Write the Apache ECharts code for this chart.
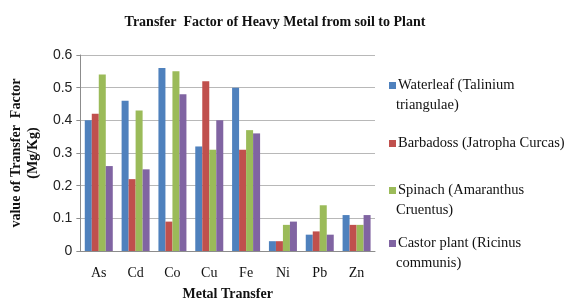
<!DOCTYPE html>
<html>
<head>
<meta charset="utf-8">
<script src="https://cdn.jsdelivr.net/npm/echarts@6/dist/echarts.min.js"></script>
<style>
  html, body { margin: 0; padding: 0; background: #fff; }
  #main { width: 568px; height: 308px; }
</style>
</head>
<body>
<div id="main"></div>
<script>
const metals = ['As', 'Cd', 'Co', 'Cu', 'Fe', 'Ni', 'Pb', 'Zn'];
const waterleaf = [0.40, 0.46, 0.56, 0.32, 0.50, 0.03, 0.05, 0.11];
const barbadoss = [0.42, 0.22, 0.09, 0.52, 0.31, 0.03, 0.06, 0.08];
const spinach = [0.54, 0.43, 0.55, 0.31, 0.37, 0.08, 0.14, 0.08];
const castor = [0.26, 0.25, 0.48, 0.40, 0.36, 0.09, 0.05, 0.11];
const yTicks = [0, 0.1, 0.2, 0.3, 0.4, 0.5, 0.6];

// legend text: first line beside the swatch, second line underneath
const names = [
  ['Waterleaf (Talinium', 'triangulae)'],
  ['Barbadoss (Jatropha Curcas)', ''],
  ['Spinach (Amaranthus', 'Cruentus)'],
  ['Castor plant (Ricinus', 'communis)']
];
const colors = ['#4F81BD', '#C0504D', '#9BBB59', '#8064A2'];
const values = [waterleaf, barbadoss, spinach, castor];
const legendTops = [73, 131, 178, 231];

const serif = '"Liberation Serif", "DejaVu Serif", serif';
const sans = '"Liberation Sans", Arial, sans-serif';

const myChart = echarts.init(document.getElementById('main'));

const option = {
  animation: false,
  color: colors,
  title: {
    text: 'Transfer  Factor of Heavy Metal from soil to Plant',
    left: 270,
    textAlign: 'center',
    top: 10,
    textStyle: { fontFamily: serif, fontWeight: 'bold', fontSize: 14, color: '#111' }
  },
  legend: names.map((n, i) => ({
    data: [n[0]],
    orient: 'vertical',
    left: 384,
    top: legendTops[i],
    itemWidth: 7,
    itemHeight: 7,
    itemGap: 0,
    icon: 'rect',
    textStyle: { fontFamily: serif, fontSize: 14.5, color: '#111', padding: [0, 0, 0, -3] }
  })),
  graphic: names.filter(n => n[1]).map((n) => {
    const i = names.indexOf(n);
    return {
      type: 'text',
      left: 396,
      top: legendTops[i] + 25,
      style: { text: n[1], font: '14.5px ' + serif, fill: '#111' }
    };
  }),
  grid: { left: 73, right: 193, top: 55, bottom: 57 },
  xAxis: {
    type: 'category',
    data: metals,
    name: 'Metal Transfer',
    nameLocation: 'middle',
    nameGap: 36,
    nameTextStyle: { fontFamily: serif, fontWeight: 'bold', fontSize: 14, color: '#111' },
    axisLine: { lineStyle: { color: '#8c8c8c' } },
    axisTick: { show: false },
    axisLabel: { fontFamily: serif, fontSize: 14, color: '#111', margin: 15 }
  },
  yAxis: {
    type: 'value',
    min: 0,
    max: 0.6,
    interval: 0.1,
    name: 'value of Transfer  Factor\n(Mg/Kg)',
    nameLocation: 'middle',
    nameGap: 37,
    nameTextStyle: { fontFamily: serif, fontWeight: 'bold', fontSize: 14, color: '#111', lineHeight: 17 },
    axisLine: { show: true, lineStyle: { color: '#8c8c8c' } },
    axisTick: { show: true, length: 4, lineStyle: { color: '#8c8c8c' } },
    splitLine: { lineStyle: { color: '#b8b8b8' } },
    axisLabel: {
      fontFamily: sans, fontSize: 14, color: '#222', margin: 8,
      formatter: v => (yTicks.includes(Math.round(v * 10) / 10) ? (v === 0 ? '0' : v.toFixed(1)) : '')
    }
  },
  series: names.map((n, i) => ({
    name: n[0],
    type: 'bar',
    data: values[i],
    barWidth: 7,
    barGap: '0%'
  }))
};

myChart.setOption(option);
window.addEventListener('resize', myChart.resize);
</script>
</body>
</html>
